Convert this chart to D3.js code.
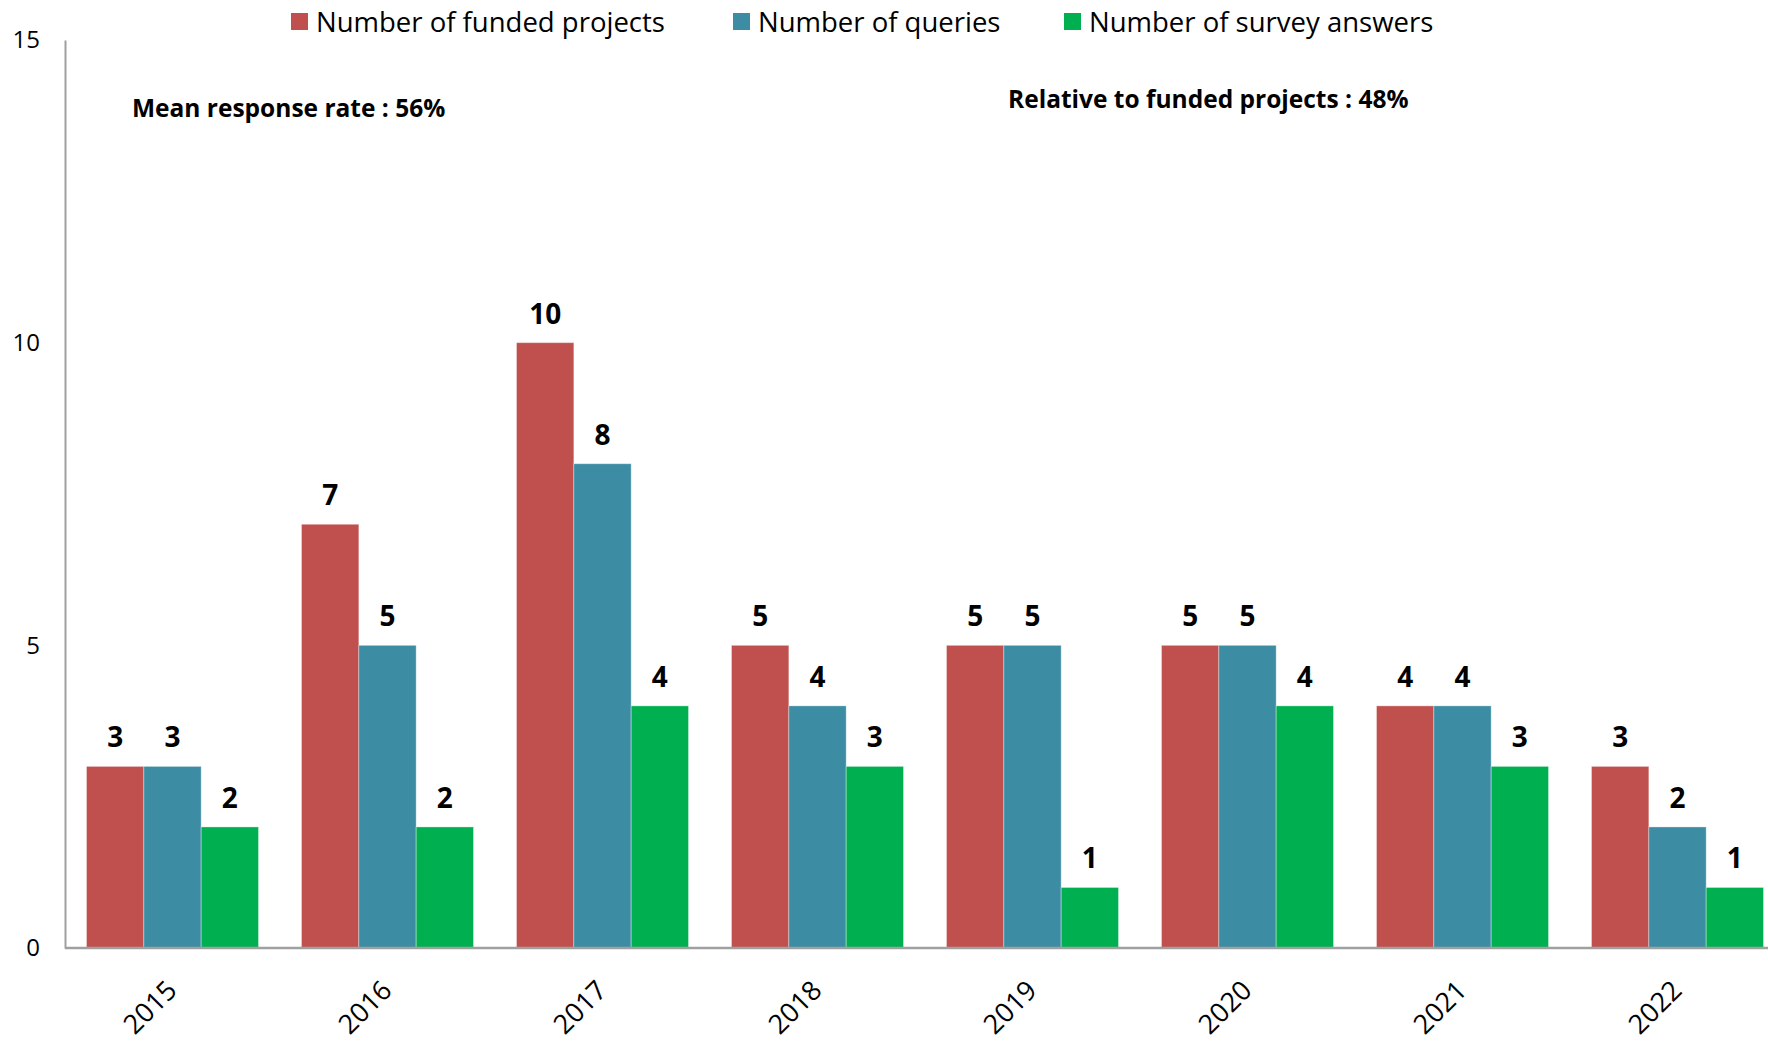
<!DOCTYPE html>
<html><head><meta charset="utf-8">
<script src="https://cdn.jsdelivr.net/npm/d3@7"></script>
<style>html,body{margin:0;padding:0;background:#fff;} svg{display:block;}</style>
</head><body>
<svg id="chart" width="1768" height="1045"></svg>
<script>
const years = ["2015","2016","2017","2018","2019","2020","2021","2022"];
const seriesNames = ["Number of funded projects","Number of queries","Number of survey answers"];
const fundedProjects = [3,7,10,5,5,5,4,3];
const queries = [3,5,8,4,5,5,4,2];
const surveyAnswers = [2,2,4,3,1,4,3,1];
const yTicks = [0,5,10,15];
const notes = ["Mean response rate : 56%","Relative to funded projects : 48%"];
const colors = ["#C0504D","#3C8CA4","#00B050"];

const font = "'Open Sans', sans-serif";
const svg = d3.select("#chart");
const W = 1768, H = 1045;
const mLeft = 65, mTop = 40, mBottom = 948;

const x0 = d3.scaleBand().domain(years).range([mLeft, mLeft + 8*215]).paddingInner(0.2).paddingOuter(0.1);
const x1 = d3.scaleBand().domain(d3.range(3)).range([0, x0.bandwidth()]);
const y = d3.scaleLinear().domain([0, 15]).range([mBottom, mTop]);

const allSeries = [fundedProjects, queries, surveyAnswers];
const data = years.map((yr, i) => ({year: yr, values: allSeries.map((s, k) => ({k, v: s[i]}))}));

// bars
const g = svg.selectAll("g.grp").data(data).enter().append("g")
  .attr("transform", d => `translate(${x0(d.year)},0)`);
g.selectAll("rect").data(d => d.values).enter().append("rect")
  .attr("x", d => x1(d.k)).attr("width", x1.bandwidth())
  .attr("y", d => y(d.v)).attr("height", d => y(0) - y(d.v))
  .attr("fill", d => colors[d.k])
  .attr("stroke", "rgba(255,255,255,0.35)").attr("stroke-width", 1);
g.selectAll("text").data(d => d.values).enter().append("text")
  .attr("x", d => x1(d.k) + x1.bandwidth()/2)
  .attr("y", d => y(d.v) - 19)
  .attr("text-anchor", "middle")
  .style("font-family", font).style("font-weight", "bold").style("font-size", "28px")
  .attr("fill", "#000").text(d => d.v);

// y axis
const yAxis = d3.axisLeft(y).tickValues(yTicks).tickSize(0).tickPadding(25);
const ya = svg.append("g").attr("transform", `translate(${mLeft},0)`).call(yAxis);
ya.select(".domain").attr("stroke", "#a0a0a0").attr("stroke-width", 2);
ya.selectAll("text").style("font-family", font).style("font-size", "24px").attr("fill", "#000");

// x axis
const xAxis = d3.axisBottom(x0).tickSize(0).tickPadding(0);
const xa = svg.append("g").attr("transform", `translate(0,${mBottom})`).call(xAxis);
xa.select(".domain").remove();
xa.append("line").attr("x1", mLeft).attr("x2", W).attr("y1", 0).attr("y2", 0)
  .attr("stroke", "#a0a0a0").attr("stroke-width", 2.5);
xa.selectAll(".tick text")
  .style("font-family", font).style("font-size", "27px").attr("fill", "#000")
  .attr("text-anchor", "end").attr("dy", null).attr("y", 0)
  .attr("transform", "translate(6,44) rotate(-45)");

// legend
const legendX = [291, 733, 1064];
const lg = svg.selectAll("g.leg").data(seriesNames).enter().append("g")
  .attr("transform", (d, i) => `translate(${legendX[i]},13)`);
lg.append("rect").attr("width", 17).attr("height", 17).attr("fill", (d, i) => colors[i]);
lg.append("text").attr("x", 25).attr("y", 9).attr("dy", "0.35em")
  .style("font-family", font).style("font-size", "27.5px").attr("fill", "#000").text(d => d);

// notes
const noteX = [132, 1008], noteY = [108, 99];
svg.selectAll("text.note").data(notes).enter().append("text").attr("class", "note")
  .attr("x", (d, i) => noteX[i]).attr("y", (d, i) => noteY[i]).attr("dy", "0.35em")
  .style("font-family", font).style("font-weight", "bold").style("font-size", "24.5px")
  .attr("fill", "#000").text(d => d);
</script>
</body></html>
